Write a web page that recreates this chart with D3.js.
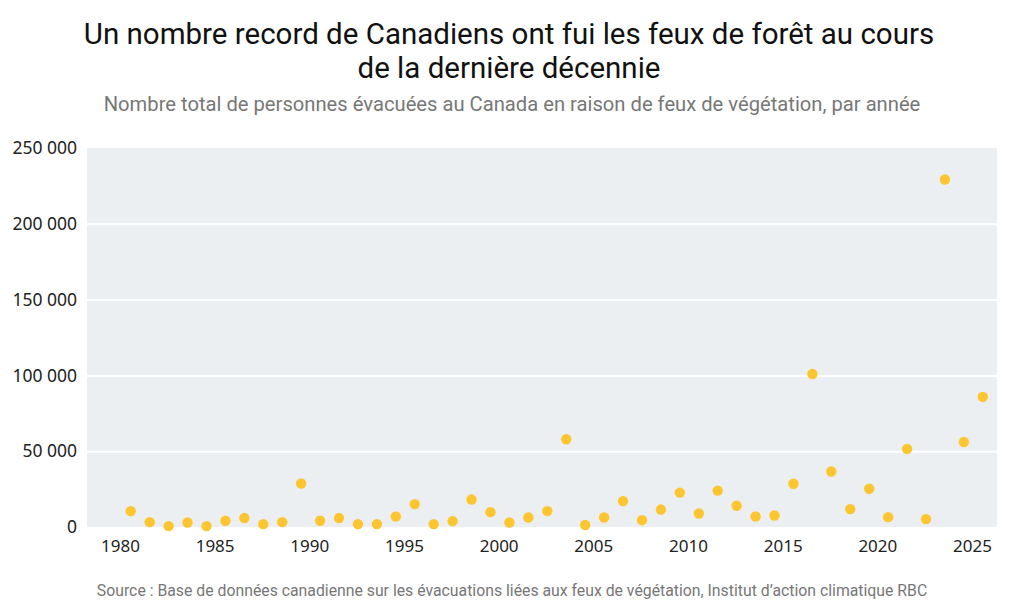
<!DOCTYPE html>
<html>
<head>
<meta charset="utf-8">
<script src="https://cdn.jsdelivr.net/npm/d3@7"></script>
<style>
  body { margin: 0; background: #fff; }
  svg { display: block; }
</style>
</head>
<body>
<svg id="chart" width="1024" height="602"></svg>
<script>
// data
const years = [1980, 1981, 1982, 1983, 1984, 1985, 1986, 1987, 1988, 1989,
  1990, 1991, 1992, 1993, 1994, 1995, 1996, 1997, 1998, 1999,
  2000, 2001, 2002, 2003, 2004, 2005, 2006, 2007, 2008, 2009,
  2010, 2011, 2012, 2013, 2014, 2015, 2016, 2017, 2018, 2019,
  2020, 2021, 2022, 2023, 2024, 2025];
const evacuees = [10500, 3200, 600, 3000, 600, 4100, 5900, 1900, 3200, 28700,
  4100, 5900, 1900, 1900, 6900, 15100, 1900, 3900, 18100, 9800,
  3000, 6300, 10500, 57900, 1300, 6300, 17100, 4500, 11500, 22700,
  8900, 24000, 14000, 6900, 7600, 28500, 100900, 36600, 11800, 25200,
  6500, 51500, 5200, 229200, 56100, 85800];
const yTicks = [0, 50000, 100000, 150000, 200000, 250000];
const xTicks = [1980, 1985, 1990, 1995, 2000, 2005, 2010, 2015, 2020, 2025];

const titleLines = ["Un nombre record de Canadiens ont fui les feux de forêt au cours",
  "de la dernière décennie"];
const subtitle = "Nombre total de personnes évacuées au Canada en raison de feux de végétation, par année";
const source = "Source : Base de données canadienne sur les évacuations liées aux feux de végétation, Institut d’action climatique RBC";

const svg = d3.select("#chart");
const margin = {left: 87, right: 27, top: 148, bottom: 75};
const W = 1024, H = 602;

const x = d3.scaleLinear().domain([1978.26, 2026.32]).range([margin.left, W - margin.right]);
const y = d3.scaleLinear().domain([0, 250000]).range([H - margin.bottom, margin.top]);

const fr = d3.formatLocale({decimal: ",", thousands: " ", grouping: [3], currency: ["", " $"]});
const fmt = fr.format(",d");

// titles
svg.selectAll(".title").data(titleLines).join("text")
  .attr("class", "title")
  .attr("x", 509).attr("y", (d, i) => 44 + i * 34)
  .attr("text-anchor", "middle")
  .style("font-family", "Roboto, sans-serif")
  .style("font-size", "29.5px")
  .style("fill", "#111")
  .text(d => d);

svg.append("text")
  .attr("x", 512).attr("y", 111)
  .attr("text-anchor", "middle")
  .style("font-family", "Roboto, sans-serif")
  .style("font-size", "20.2px")
  .style("fill", "#777")
  .text(subtitle);

// plot background
svg.append("rect")
  .attr("x", margin.left).attr("y", margin.top)
  .attr("width", W - margin.left - margin.right)
  .attr("height", H - margin.bottom - margin.top)
  .attr("fill", "#ebeff2");

// gridlines + y labels
const yAxis = svg.append("g")
  .attr("transform", `translate(${margin.left},0)`)
  .call(d3.axisLeft(y).tickValues(yTicks).tickFormat(fmt)
    .tickSize(-(W - margin.left - margin.right)).tickPadding(10));
yAxis.select(".domain").remove();
yAxis.selectAll(".tick line")
  .attr("stroke", "#fff").attr("stroke-width", 2)
  .style("display", d => (d === 0 || d === 250000) ? "none" : null);
yAxis.selectAll(".tick text")
  .style("font-family", "'Noto Sans', sans-serif")
  .style("font-size", "17.5px")
  .style("fill", "#222");

// x labels
const xAxis = svg.append("g")
  .attr("transform", `translate(0,${H - margin.bottom})`)
  .call(d3.axisBottom(x).tickValues(xTicks).tickFormat(d3.format("d"))
    .tickSize(0).tickPadding(13));
xAxis.select(".domain").remove();
xAxis.selectAll(".tick text")
  .style("font-family", "'Noto Sans', sans-serif")
  .style("font-size", "17px")
  .style("fill", "#222");

// points, placed mid-year
svg.append("g").selectAll("circle")
  .data(years.map((yr, i) => ({yr, v: evacuees[i]})))
  .join("circle")
  .attr("cx", d => x(d.yr + 0.57))
  .attr("cy", d => y(d.v))
  .attr("r", 5.2)
  .attr("fill", "#fdc52f");

svg.append("text")
  .attr("x", 512).attr("y", 596)
  .attr("text-anchor", "middle")
  .style("font-family", "Roboto, sans-serif")
  .style("font-size", "15.8px")
  .style("fill", "#777")
  .text(source);
</script>
</body>
</html>
